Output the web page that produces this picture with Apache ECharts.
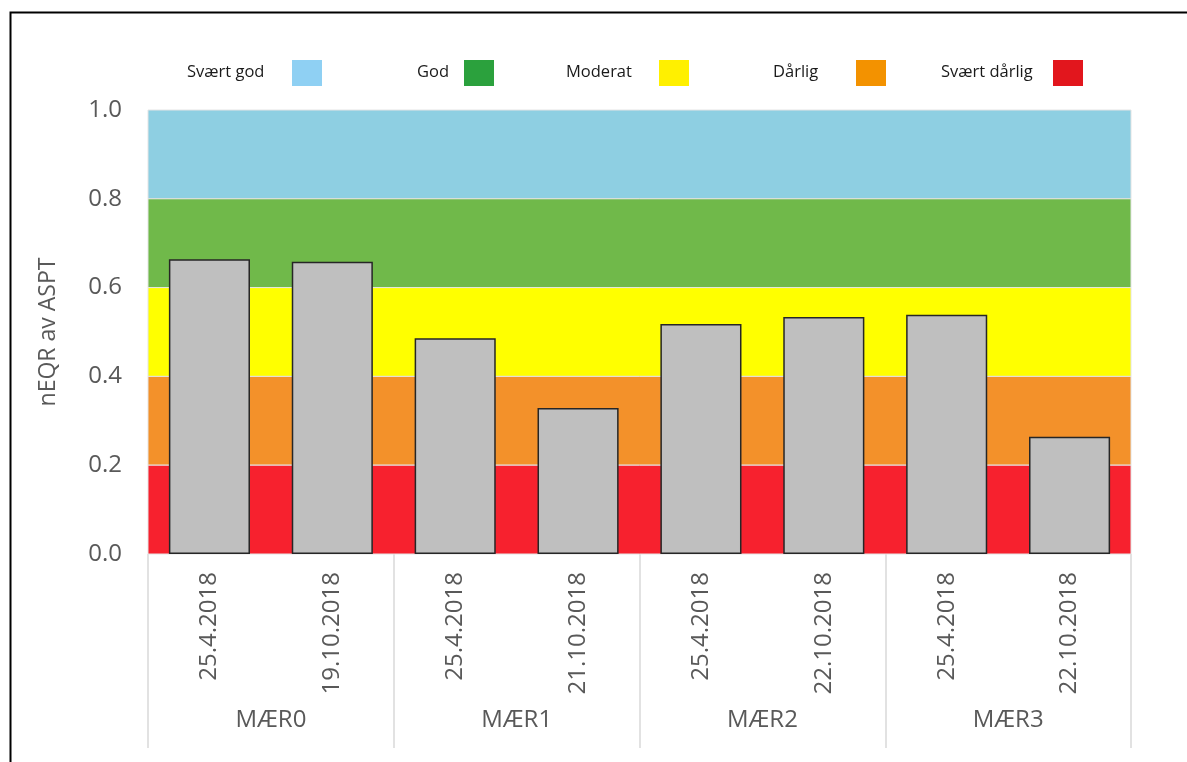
<!DOCTYPE html>
<html>
<head>
<meta charset="utf-8">
<script src="https://cdn.jsdelivr.net/npm/echarts@6/dist/echarts.min.js"></script>
<style>
  html, body { margin: 0; padding: 0; background: #fff; }
  #chart { width: 1187px; height: 762px; }
</style>
</head>
<body>
<div id="chart"></div>
<script>
// Sampling dates and stations
const dates = ['25.4.2018', '19.10.2018', '25.4.2018', '21.10.2018', '25.4.2018', '22.10.2018', '25.4.2018', '22.10.2018'];
const stations = ['MÆR0', 'MÆR1', 'MÆR2', 'MÆR3'];
// nEQR of ASPT per sample
const nEQR = [0.664, 0.658, 0.486, 0.329, 0.518, 0.534, 0.539, 0.264];

// Ecological status classes
const classNames = ['Svært god', 'God', 'Moderat', 'Dårlig', 'Svært dårlig'];
const classLow = [0.8, 0.6, 0.4, 0.2, 0.0];
const classHigh = [1.0, 0.8, 0.6, 0.4, 0.2];
const bandColors = ['#8ecfe2', '#70b94a', '#ffff00', '#f3912a', '#f7212e'];
const swatchColors = ['#8fd0f3', '#2ba13d', '#fff000', '#f39200', '#e2161d'];
const yTicks = [0, 0.2, 0.4, 0.6, 0.8, 1.0];

// legend layout: where each label starts and where its swatch sits
const legendTextX = [187, 417, 566, 773, 941];
const legendSwatchX = [292, 464, 659, 856, 1053];

const axisText = '#595959';
const font = '"Open Sans", "Noto Sans", sans-serif';

const chart = echarts.init(document.getElementById('chart'));

// one band per status class, drawn behind the bars
const classSeries = classNames.map((name, i) => ({
  name: name,
  type: 'bar',
  xAxisIndex: 0,
  yAxisIndex: 0,
  data: [],
  itemStyle: { color: swatchColors[i] },
  silent: true,
  markArea: {
    silent: true,
    itemStyle: { color: bandColors[i], borderColor: '#e4e4e4', borderWidth: 1 },
    data: [[{ yAxis: classLow[i] }, { yAxis: classHigh[i] }]]
  }
}));

// legend row: label followed by its colour swatch
const legendGraphics = [];
classNames.forEach((name, i) => {
  legendGraphics.push({
    type: 'text',
    left: legendTextX[i],
    top: 64,
    silent: true,
    style: { text: name, font: '16.5px ' + font, fill: '#1a1a1a' }
  });
  legendGraphics.push({
    type: 'rect',
    left: legendSwatchX[i],
    top: 60,
    silent: true,
    shape: { width: 30, height: 26 },
    style: { fill: swatchColors[i] }
  });
});

chart.setOption({
  animation: false,
  backgroundColor: '#ffffff',
  grid: { left: 148, right: 56, top: 110, bottom: 208 },
  xAxis: [
    {
      type: 'category',
      data: dates,
      axisLine: { show: false },
      axisTick: { show: false },
      axisLabel: { rotate: 90, margin: 18, fontFamily: font, fontSize: 24, color: axisText, interval: 0 }
    },
    {
      type: 'category',
      data: stations,
      position: 'bottom',
      axisLine: { show: false },
      axisTick: { show: true, interval: 0, length: 194, lineStyle: { color: '#d9d9d9', width: 1.5 } },
      axisLabel: { margin: 154, fontFamily: font, fontSize: 24, color: axisText, interval: 0 }
    }
  ],
  yAxis: {
    type: 'value',
    min: 0,
    max: 1,
    interval: 0.2,
    name: 'nEQR av ASPT',
    nameLocation: 'middle',
    nameGap: 88,
    nameTextStyle: { fontFamily: font, fontSize: 23, color: axisText },
    axisLine: { show: false },
    axisTick: { show: false },
    splitLine: { show: false },
    axisLabel: {
      margin: 26,
      fontFamily: font,
      fontSize: 24,
      color: axisText,
      formatter: v => (yTicks.some(t => Math.abs(t - v) < 1e-9) ? v.toFixed(1) : '')
    }
  },
  series: classSeries.concat([
    {
      name: 'nEQR',
      type: 'bar',
      xAxisIndex: 0,
      yAxisIndex: 0,
      data: nEQR,
      barWidth: '66%',
      barGap: '-100%',
      z: 5,
      itemStyle: { color: '#bfbfbf', borderColor: '#262626', borderWidth: 1.5 }
    }
  ]),
  graphic: legendGraphics.concat([
    {
      type: 'rect',
      left: 8,
      top: 10,
      shape: { width: 1240, height: 820 },
      style: { fill: 'none', stroke: '#000', lineWidth: 2 },
      silent: true
    }
  ])
});
</script>
</body>
</html>
